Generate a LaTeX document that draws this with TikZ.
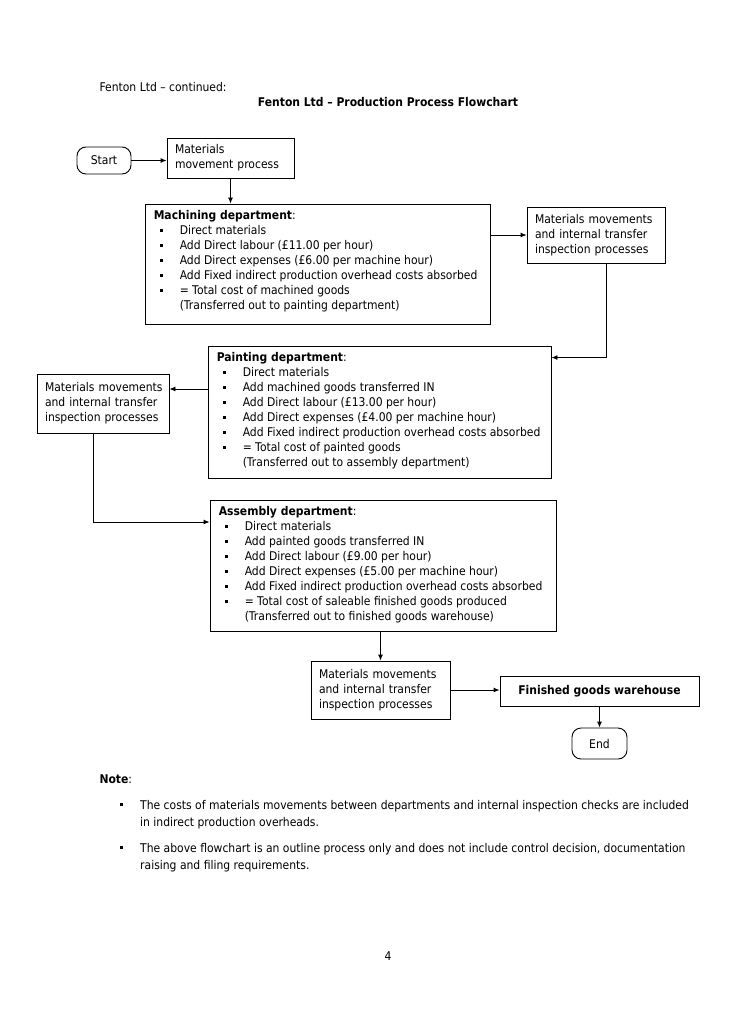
\documentclass[tikz,border=0pt]{standalone}
\usepackage{fontspec}
\setmainfont{DejaVu Sans}[FakeStretch=0.9]
\usetikzlibrary{arrows.meta}
\newcommand\fsz{\fontsize{12}{15}\selectfont}
\newcommand\nfsz{\fontsize{12}{17}\selectfont}
\newcommand\bsq{\raisebox{2.7pt}{\rule{3pt}{3pt}}}
\newcommand\bitem[1]{\hspace*{6pt}\makebox[20pt][l]{\bsq}#1}
\newcommand\citem[1]{\hspace*{26pt}#1}
\begin{document}
\begin{tikzpicture}[x=1pt,y=-1pt,
  every node/.style={font=\fsz, text=black},
  box/.style={draw, line width=0.9pt, inner sep=0pt},
  pbox/.style={box, align=left, inner xsep=8pt},
  term/.style={draw, line width=0.9pt, rounded corners=9pt, inner sep=0pt},
  dtext/.style={anchor=north west, inner sep=0pt, align=left},
  conn/.style={line width=0.9pt, -{Latex[length=6pt,width=5pt]}}
]
\fill[white] (0,0) rectangle (732,1024);
\useasboundingbox (0,0) rectangle (732,1024);

% header
\node[anchor=base west] (cont) at (96,91.5) {Fenton Ltd – continued:};
\node[anchor=base, font=\fsz\bfseries] (title) at (388,107) {Fenton Ltd – Production Process Flowchart};

% start and first box
\node[term, minimum width=54pt, minimum height=27pt, text depth=-1pt] (start) at (104,160.5) {Start};
\node[pbox, text width=111pt, minimum height=40pt] (mmp) at (230.5,158) {\mbox{Materials}\\\mbox{movement process}};

% machining
\node[box, minimum width=345pt, minimum height=120pt] (mach) at (317.5,264) {};
\node[dtext] (machT) at ([xshift=9pt,yshift=-5pt]mach.north west) {\strut\textbf{Machining department}:\\
\bitem{Direct materials}\\
\bitem{Add Direct labour (£11.00 per hour)}\\
\bitem{Add Direct expenses (£6.00 per machine hour)}\\
\bitem{Add Fixed indirect production overhead costs absorbed}\\
\bitem{= Total cost of machined goods}\\
\citem{(Transferred out to painting department)}};

\node[pbox, text width=122pt, minimum height=56pt] (rbox) at (596,235) {\mbox{Materials movements}\\\mbox{and internal transfer}\\\mbox{inspection processes}};

% painting
\node[box, minimum width=343pt, minimum height=132pt] (paint) at (379.5,412) {};
\node[dtext] (paintT) at ([xshift=9pt,yshift=-5pt]paint.north west) {\strut\textbf{Painting department}:\\
\bitem{Direct materials}\\
\bitem{Add machined goods transferred IN}\\
\bitem{Add Direct labour (£13.00 per hour)}\\
\bitem{Add Direct expenses (£4.00 per machine hour)}\\
\bitem{Add Fixed indirect production overhead costs absorbed}\\
\bitem{= Total cost of painted goods}\\
\citem{(Transferred out to assembly department)}};

\node[pbox, text width=116pt, minimum height=59pt] (lbox) at (103,403.5) {\mbox{Materials movements}\\\mbox{and internal transfer}\\\mbox{inspection processes}};

% assembly
\node[box, minimum width=346pt, minimum height=131pt] (asm) at (383,565.5) {};
\node[dtext] (asmT) at ([xshift=9pt,yshift=-5pt]asm.north west) {\strut\textbf{Assembly department}:\\
\bitem{Direct materials}\\
\bitem{Add painted goods transferred IN}\\
\bitem{Add Direct labour (£9.00 per hour)}\\
\bitem{Add Direct expenses (£5.00 per machine hour)}\\
\bitem{Add Fixed indirect production overhead costs absorbed}\\
\bitem{= Total cost of saleable finished goods produced}\\
\citem{(Transferred out to finished goods warehouse)}};

\node[pbox, text width=123pt, minimum height=58pt] (bbox) at (380.5,690) {\mbox{Materials movements}\\\mbox{and internal transfer}\\\mbox{inspection processes}};
\node[box, font=\fsz\bfseries, minimum width=199pt, minimum height=30pt] (fgw) at (599.5,691) {Finished goods warehouse};
\node[term, minimum width=55pt, minimum height=31pt, text depth=-1pt] (end) at (599.5,743.5) {End};

% connectors
\draw[conn] (start.east) -- (start.east -| mmp.west);
\draw[conn] (mmp.south) -- (mmp.south |- mach.north);
\draw[conn] (rbox.west -| mach.east) -- (rbox.west);
\draw[conn] ([xshift=10pt]rbox.south) |- ([yshift=-12pt]paint.north east);
\draw[conn] ([yshift=14.5pt]lbox.east -| paint.west) -- ([yshift=14.5pt]lbox.east);
\draw[conn] ([xshift=-10pt]lbox.south) |- ([yshift=43.5pt]asm.west);
\draw[conn] (asm.south -| bbox.north) -- (bbox.north);
\draw[conn] (bbox.east) -- (bbox.east -| fgw.west);
\draw[conn] (fgw.south) -- (end.north);

% note
\node[anchor=base west] (note) at (96,783) {\textbf{Note}:};
\node[anchor=north west, inner sep=0pt, align=left, font=\nfsz] (n1) at (120,797) {\strut\makebox[20pt][l]{\bsq}The costs of materials movements between departments and internal inspection checks are included\\
\hspace*{20pt}in indirect production overheads.};
\node[anchor=north west, inner sep=0pt, align=left, font=\nfsz] (n2) at (120,840) {\strut\makebox[20pt][l]{\bsq}The above flowchart is an outline process only and does not include control decision, documentation\\
\hspace*{20pt}raising and filing requirements.};

\node[anchor=base] (pg) at (388,960) {4};
\end{tikzpicture}
\end{document}
